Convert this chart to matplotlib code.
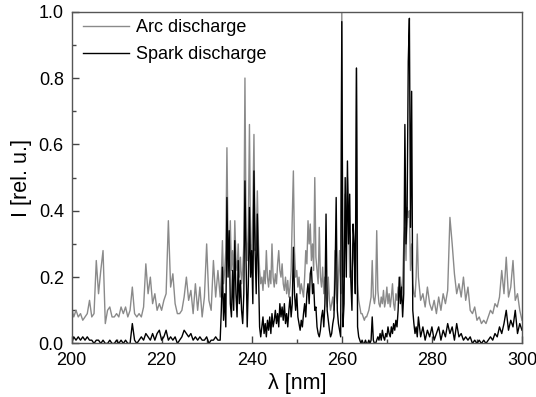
import numpy as np
from matplotlib import pyplot as plt
from matplotlib.ticker import MultipleLocator

plt.rcParams['font.family'] = ['Liberation Sans', 'DejaVu Sans']

# wavelength grid [nm]: coarse outside the dense line region, finer inside
wl = np.concatenate([np.arange(200, 232.51, 0.5),
                     np.arange(233, 276.76, 0.25),
                     np.arange(277, 300.01, 0.5)])

arc = [
    # 200.0 - 232.5, step 0.5
    0.11, 0.08, 0.10, 0.08, 0.09, 0.07, 0.08, 0.09, 0.13, 0.08,
    0.09, 0.25, 0.15, 0.22, 0.28, 0.06, 0.10, 0.11, 0.08, 0.08,
    0.09, 0.08, 0.11, 0.09, 0.11, 0.08, 0.10, 0.17, 0.09, 0.08,
    0.09, 0.08, 0.11, 0.24, 0.15, 0.20, 0.12, 0.15, 0.10, 0.12,
    0.10, 0.13, 0.15, 0.37, 0.17, 0.21, 0.12, 0.09, 0.09, 0.10,
    0.14, 0.20, 0.13, 0.16, 0.09, 0.18, 0.10, 0.17, 0.08, 0.14,
    0.30, 0.13, 0.10, 0.25, 0.14, 0.22,
    # 233.00 - 276.75, step 0.25
    0.14, 0.20, 0.31, 0.18, 0.22, 0.28, 0.59, 0.30,
    0.25, 0.37, 0.22, 0.28, 0.20, 0.37, 0.25, 0.22,
    0.30, 0.20, 0.26, 0.18, 0.22, 0.30, 0.80, 0.32,
    0.25, 0.35, 0.66, 0.30, 0.25, 0.40, 0.63, 0.28,
    0.30, 0.46, 0.30, 0.22, 0.18, 0.20, 0.16, 0.22,
    0.18, 0.28, 0.20, 0.17, 0.22, 0.18, 0.30, 0.20,
    0.17, 0.21, 0.18, 0.24, 0.28, 0.22, 0.20, 0.24,
    0.18, 0.16, 0.20, 0.15, 0.19, 0.14, 0.17, 0.22,
    0.38, 0.52, 0.28, 0.20, 0.22, 0.17, 0.20, 0.15,
    0.18, 0.16, 0.14, 0.20, 0.28, 0.24, 0.37, 0.30,
    0.36, 0.25, 0.30, 0.22, 0.50, 0.26, 0.22, 0.18,
    0.35, 0.20, 0.17, 0.23, 0.15, 0.20, 0.14, 0.11,
    0.20, 0.13, 0.10, 0.12, 0.14, 0.10, 0.28, 0.15,
    0.12, 0.20, 0.28, 0.15, 1.00, 0.20, 0.25, 0.45,
    0.30, 0.50, 0.40, 0.20, 0.22, 0.18, 0.30, 0.25,
    0.20, 0.83, 0.18, 0.13, 0.11, 0.09, 0.09, 0.08,
    0.07, 0.08, 0.08, 0.09, 0.10, 0.12, 0.14, 0.25,
    0.14, 0.12, 0.15, 0.34, 0.16, 0.12, 0.11, 0.14,
    0.12, 0.16, 0.11, 0.13, 0.17, 0.12, 0.15, 0.11,
    0.14, 0.18, 0.12, 0.10, 0.15, 0.13, 0.17, 0.14,
    0.20, 0.15, 0.18, 0.30, 0.35, 0.25, 0.41, 0.38,
    0.40, 0.22, 0.30, 0.18, 0.15, 0.14, 0.20, 0.33,
    # 277.0 - 300.0, step 0.5
    0.20, 0.13, 0.15, 0.11, 0.17, 0.12, 0.10, 0.13, 0.09, 0.14,
    0.10, 0.15, 0.12, 0.16, 0.38, 0.30, 0.21, 0.15, 0.18, 0.14,
    0.20, 0.13, 0.17, 0.10, 0.09, 0.11, 0.07, 0.08, 0.06, 0.07,
    0.06, 0.08, 0.10, 0.09, 0.12, 0.11, 0.14, 0.22, 0.15, 0.26,
    0.14, 0.17, 0.25, 0.13, 0.15, 0.10, 0.07,
]

spark = [
    # 200.0 - 232.5, step 0.5
    0.00, 0.02, 0.01, 0.02, 0.01, 0.02, 0.01, 0.02, 0.01, 0.01,
    0.00, 0.01, 0.01, 0.00, 0.01, 0.00, 0.00, 0.01, 0.00, 0.00,
    0.01, 0.00, 0.01, 0.00, 0.01, 0.00, 0.00, 0.06, 0.01, 0.00,
    0.01, 0.02, 0.01, 0.03, 0.02, 0.01, 0.03, 0.01, 0.03, 0.04,
    0.01, 0.02, 0.04, 0.01, 0.02, 0.01, 0.02, 0.00, 0.01, 0.02,
    0.04, 0.03, 0.02, 0.03, 0.01, 0.02, 0.01, 0.02, 0.01, 0.01,
    0.02, 0.00, 0.01, 0.01, 0.02, 0.01,
    # 233.00 - 276.75, step 0.25
    0.01, 0.10, 0.23, 0.07, 0.15, 0.05, 0.44, 0.20,
    0.34, 0.12, 0.08, 0.22, 0.10, 0.31, 0.15, 0.08,
    0.25, 0.12, 0.19, 0.10, 0.06, 0.15, 0.49, 0.25,
    0.05, 0.18, 0.41, 0.20, 0.28, 0.12, 0.52, 0.28,
    0.15, 0.39, 0.22, 0.05, 0.02, 0.05, 0.08, 0.03,
    0.06, 0.02, 0.07, 0.04, 0.08, 0.03, 0.09, 0.05,
    0.07, 0.10, 0.06, 0.09, 0.05, 0.12, 0.08, 0.11,
    0.07, 0.12, 0.06, 0.09, 0.05, 0.10, 0.14, 0.08,
    0.12, 0.29, 0.15, 0.10, 0.15, 0.08, 0.06, 0.04,
    0.07, 0.05, 0.09, 0.12, 0.08, 0.15, 0.18, 0.12,
    0.21, 0.23, 0.15, 0.18, 0.10, 0.11, 0.05, 0.03,
    0.02, 0.04, 0.08, 0.10, 0.05, 0.12, 0.39, 0.10,
    0.07, 0.04, 0.02, 0.03, 0.06, 0.08, 0.20, 0.44,
    0.10, 0.06, 0.04, 0.02, 0.97, 0.05, 0.12, 0.50,
    0.20, 0.55, 0.30, 0.45, 0.19, 0.10, 0.36, 0.30,
    0.15, 0.83, 0.05, 0.02, 0.01, 0.00, 0.01, 0.00,
    0.00, 0.01, 0.00, 0.00, 0.01, 0.00, 0.01, 0.08,
    0.01, 0.00, 0.00, 0.01, 0.02, 0.01, 0.03, 0.01,
    0.04, 0.02, 0.01, 0.03, 0.02, 0.05, 0.03, 0.02,
    0.05, 0.03, 0.06, 0.04, 0.07, 0.05, 0.10, 0.20,
    0.12, 0.17, 0.08, 0.15, 0.66, 0.30, 0.40, 0.85,
    0.98, 0.35, 0.76, 0.10, 0.06, 0.03, 0.05, 0.02,
    # 277.0 - 300.0, step 0.5
    0.08, 0.02, 0.05, 0.01, 0.04, 0.02, 0.05, 0.01, 0.03, 0.05,
    0.01, 0.04, 0.02, 0.06, 0.03, 0.05, 0.01, 0.06, 0.02, 0.03,
    0.01, 0.02, 0.01, 0.02, 0.00, 0.01, 0.00, 0.01, 0.00, 0.01,
    0.00, 0.01, 0.02, 0.01, 0.03, 0.02, 0.05, 0.03, 0.06, 0.10,
    0.04, 0.07, 0.05, 0.10, 0.03, 0.06, 0.04,
]

fig = plt.figure(figsize=(5.36, 3.97), dpi=100)
ax = fig.add_axes([0.1334, 0.1348, 0.8405, 0.8358])

ax.plot(wl, arc, color='#8a8a8a', lw=1.0, label='Arc discharge')
ax.plot(wl, spark, color='black', lw=1.0, label='Spark discharge')

ax.set_xlim(200, 300)
ax.set_ylim(0, 1.0)
ax.xaxis.set_major_locator(MultipleLocator(20))
ax.xaxis.set_minor_locator(MultipleLocator(10))
ax.yaxis.set_major_locator(MultipleLocator(0.2))
ax.yaxis.set_minor_locator(MultipleLocator(0.1))
ax.yaxis.set_major_formatter(plt.FormatStrFormatter('%.1f'))
ax.tick_params(which='both', direction='in', top=False, right=False, labelsize=13,
               color='#444444')
ax.tick_params(axis='x', which='both', pad=6)
ax.tick_params(axis='y', which='both', pad=5.5)
ax.tick_params(which='major', length=5, width=1)
ax.tick_params(which='minor', length=3, width=1)
for s in ax.spines.values():
    s.set_color('#555555')
    s.set_linewidth(1.0)

ax.set_xlabel('λ [nm]', fontsize=15.5, labelpad=3)
ax.set_ylabel('I [rel. u.]', fontsize=15.5, labelpad=5)

ax.legend(loc='upper left', bbox_to_anchor=(0.0175, 0.988), borderaxespad=0,
          borderpad=0.2, frameon=False, fontsize=13, handlelength=2.55,
          handletextpad=0.37, labelspacing=0.53)

plt.savefig('out.png', dpi=100)
